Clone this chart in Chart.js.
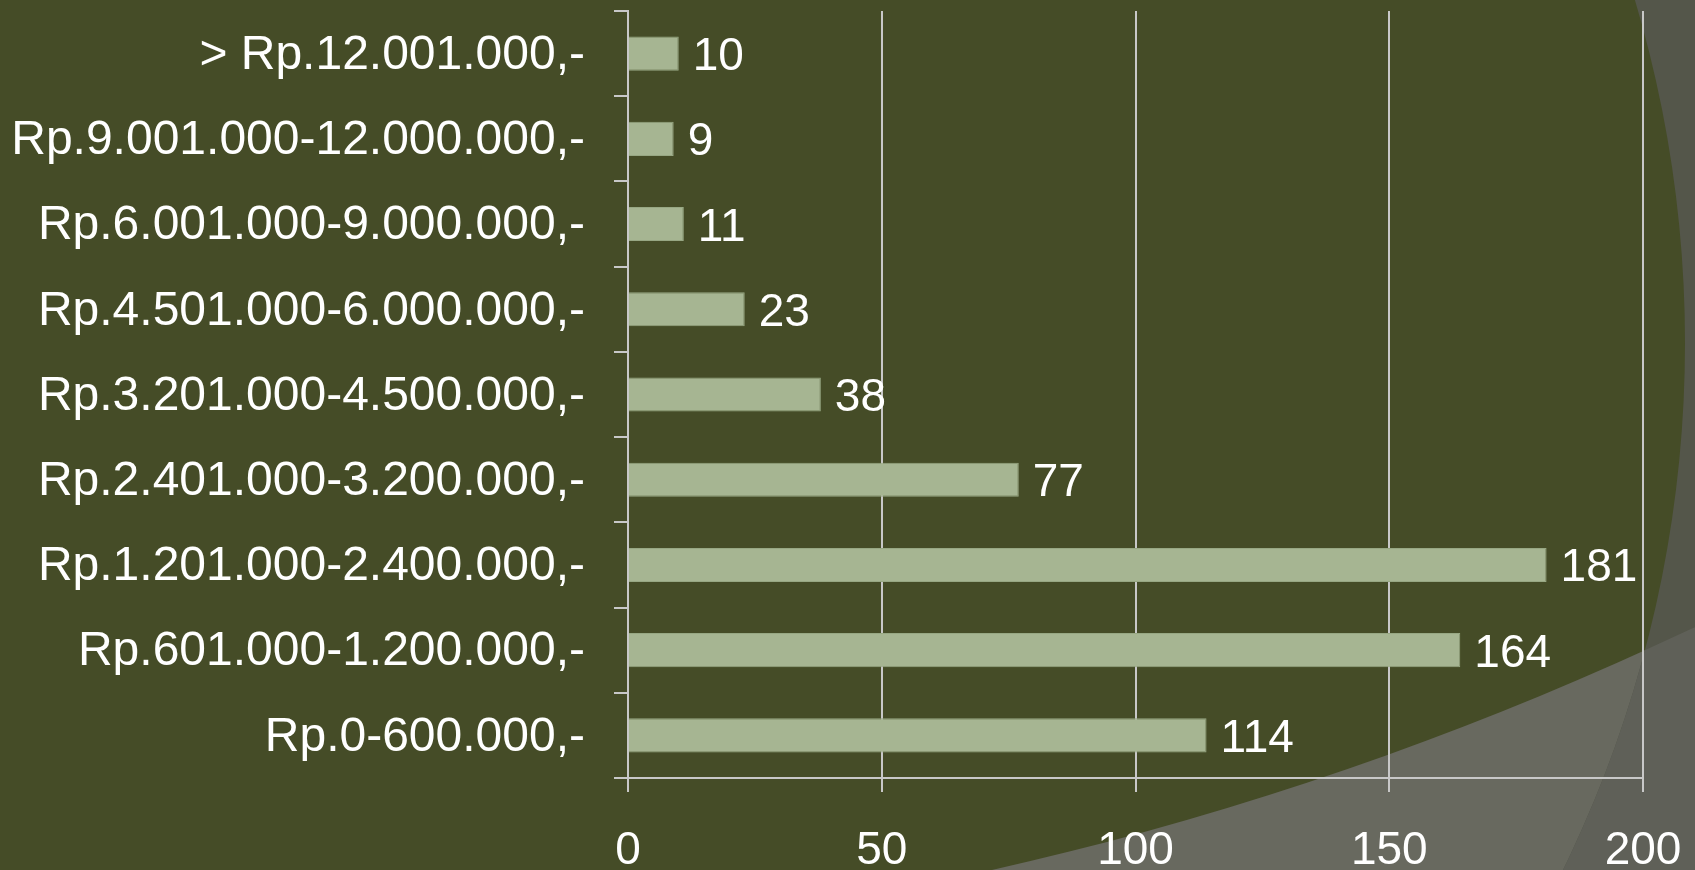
<!DOCTYPE html>
<html>
<head>
<meta charset="utf-8">
<script src="https://cdn.jsdelivr.net/npm/chart.js@4"></script>
<style>
    html, body { margin: 0; padding: 0; background: #454c27; overflow: hidden; }
    canvas { display: block; }
</style>
</head>
<body>
<canvas id="incomeChart" width="1695" height="870"></canvas>
<script>
// income brackets, top to bottom as drawn
const incomeLabels = [
    '> Rp.12.001.000,-',
    'Rp.9.001.000-12.000.000,-',
    'Rp.6.001.000-9.000.000,-',
    'Rp.4.501.000-6.000.000,-',
    'Rp.3.201.000-4.500.000,-',
    'Rp.2.401.000-3.200.000,-',
    'Rp.1.201.000-2.400.000,-',
    'Rp.601.000-1.200.000,-',
    'Rp.0-600.000,-'
];
const respondentCounts = [10, 9, 11, 23, 38, 77, 181, 164, 114];
const axisMax = 200;
const axisStep = 50;

const fontFamily = '"Liberation Sans", Arial, sans-serif';
const textColor = '#ffffff';
const lineColor = '#c8c8c8';

// theme background: olive field with two grey arcs in the lower right corner
const backdrop = {
    id: 'backdrop',
    beforeDraw(chart) {
        const ctx = chart.ctx;
        const w = chart.width, h = chart.height;
        const outside = (cx, cy, r) => {
            ctx.beginPath();
            ctx.rect(0, 0, w, h);
            ctx.arc(cx, cy, r, 0, Math.PI * 2);
        };
        ctx.save();
        ctx.fillStyle = '#454c27';
        ctx.fillRect(0, 0, w, h);

        outside(248, -2423, 3376);
        ctx.fillStyle = '#68695f';
        ctx.fill('evenodd');

        outside(486, 343, 1199);
        ctx.fillStyle = '#54564a';
        ctx.fill('evenodd');

        outside(486, 343, 1199);
        ctx.clip('evenodd');
        outside(248, -2423, 3376);
        ctx.fillStyle = '#5f6058';
        ctx.fill('evenodd');
        ctx.restore();
    }
};

// value printed just past the end of each bar
const barValues = {
    id: 'barValues',
    afterDatasetsDraw(chart) {
        const ctx = chart.ctx;
        const size = 46;
        ctx.save();
        ctx.font = size + 'px ' + fontFamily;
        ctx.fillStyle = textColor;
        ctx.textAlign = 'left';
        ctx.textBaseline = 'alphabetic';
        chart.getDatasetMeta(0).data.forEach((bar, i) => {
            ctx.fillText(String(respondentCounts[i]), bar.x + 14, bar.y + size * 0.358);
        });
        ctx.restore();
    }
};

new Chart(document.getElementById('incomeChart'), {
    type: 'bar',
    data: {
        labels: incomeLabels,
        datasets: [{
            data: respondentCounts,
            backgroundColor: '#a6b592',
            borderColor: '#97a783',
            borderWidth: 1,
            barPercentage: 0.4,
            categoryPercentage: 1
        }]
    },
    options: {
        indexAxis: 'y',
        responsive: false,
        animation: false,
        layout: {
            padding: { top: 11, right: 52, left: 0, bottom: 0 }
        },
        plugins: {
            legend: { display: false },
            tooltip: { enabled: false }
        },
        scales: {
            x: {
                min: 0,
                max: axisMax,
                afterFit(scale) {
                    scale.height = 92;
                    scale.paddingLeft = 0;
                    scale.paddingRight = 0;
                },
                border: { display: true, color: lineColor, width: 2 },
                grid: {
                    color: lineColor,
                    lineWidth: 2,
                    tickLength: 14,
                    drawTicks: true
                },
                ticks: {
                    stepSize: axisStep,
                    color: textColor,
                    padding: 32,
                    font: { family: fontFamily, size: 46 }
                }
            },
            y: {
                afterFit(scale) {
                    scale.width = 628;
                    scale.paddingTop = 0;
                    scale.paddingBottom = 0;
                },
                border: { display: true, color: lineColor, width: 2 },
                grid: {
                    drawOnChartArea: false,
                    color: lineColor,
                    lineWidth: 2,
                    tickLength: 14,
                    offset: true
                },
                ticks: {
                    color: textColor,
                    padding: 29,
                    labelOffset: 2,
                    font: { family: fontFamily, size: 48 }
                }
            }
        }
    },
    plugins: [backdrop, barValues]
});
</script>
</body>
</html>
